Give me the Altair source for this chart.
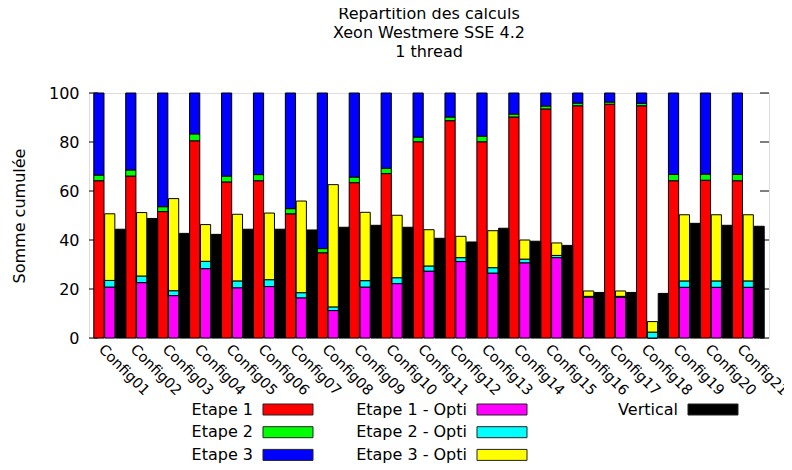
import altair as alt
import pandas as pd

FONT = "DejaVu Sans"

configs = ["Config01", "Config02", "Config03", "Config04", "Config05", "Config06", "Config07",
           "Config08", "Config09", "Config10", "Config11", "Config12", "Config13", "Config14",
           "Config15", "Config16", "Config17", "Config18", "Config19", "Config20", "Config21"]

etape1 = [64.2, 66.1, 51.6, 80.5, 63.7, 64.2, 50.7, 34.8, 63.4, 67.1, 80.1, 88.7, 80.1, 90.2,
          93.5, 94.8, 95.4, 94.8, 64.2, 64.4, 64.2]
etape2 = [2.3, 2.5, 2.0, 2.8, 2.4, 2.5, 2.1, 1.7, 2.3, 2.2, 1.9, 1.5, 2.3, 1.2,
          1.2, 1.1, 0.9, 1.0, 2.6, 2.5, 2.6]
etape3 = [33.5, 31.4, 46.4, 16.7, 33.9, 33.3, 47.2, 63.5, 34.3, 30.7, 18.0, 9.8, 17.6, 8.6,
          5.3, 4.1, 3.7, 4.2, 33.2, 33.1, 33.2]

etape1_opti = [20.8, 22.6, 17.3, 28.3, 20.5, 21.0, 16.4, 11.2, 20.8, 22.2, 27.3, 31.2, 26.5, 30.7,
               32.8, 16.6, 16.6, 0.0, 20.7, 20.7, 20.7]
etape2_opti = [2.7, 2.7, 2.0, 3.0, 2.8, 2.8, 2.1, 1.5, 2.6, 2.4, 2.1, 1.6, 2.2, 1.5,
               0.9, 0.4, 0.4, 2.4, 2.6, 2.6, 2.6]
etape3_opti = [27.2, 25.9, 37.6, 15.0, 27.2, 27.2, 37.4, 49.9, 27.9, 25.5, 14.8, 8.7, 15.1, 7.8,
               5.1, 2.2, 2.2, 4.3, 27.0, 27.0, 27.0]

vertical = [44.4, 48.8, 42.7, 42.3, 44.4, 44.4, 44.1, 45.2, 46.0, 45.2, 40.7, 39.2, 44.8, 39.5,
            37.8, 18.6, 18.6, 18.2, 46.8, 46.0, 45.6]

y_ticks = [0, 20, 40, 60, 80, 100]

bars = ["base", "opti", "vertical"]
legend_order = ["Etape 1", "Etape 2", "Etape 3", "Etape 1 - Opti", "Etape 2 - Opti", "Etape 3 - Opti"]
legend_colors = ["#ff0000", "#00ff00", "#0000ff", "#ff00ff", "#00ffff", "#ffff00"]

rows = []
for i, c in enumerate(configs):
    acc = 0.0
    for name, vals in [("Etape 1", etape1), ("Etape 2", etape2), ("Etape 3", etape3)]:
        rows.append(dict(config=c, bar="base", series=name, y0=acc, y1=acc + vals[i]))
        acc += vals[i]
    acc = 0.0
    for name, vals in [("Etape 1 - Opti", etape1_opti), ("Etape 2 - Opti", etape2_opti),
                       ("Etape 3 - Opti", etape3_opti)]:
        rows.append(dict(config=c, bar="opti", series=name, y0=acc, y1=acc + vals[i]))
        acc += vals[i]
df_stack = pd.DataFrame(rows)
df_vert = pd.DataFrame(dict(config=configs, bar="vertical", series="Vertical", y0=0.0, y1=vertical))
df_ticks = pd.DataFrame(dict(t=y_ticks))

W, H = 680, 245

x_enc = alt.X("config:N", sort=configs,
              scale=alt.Scale(domain=configs, paddingInner=0, paddingOuter=0.15),
              axis=alt.Axis(title=None, labelAngle=45, labelAlign="left", labelBaseline="middle",
                            labelFont=FONT, labelFontSize=14.5, labelColor="black",
                            labelPadding=9, labelOffset={"expr": "-9"}, ticks=False, domain=False,
                            labelOverlap=False))
xo_enc = alt.XOffset("bar:N", sort=bars, scale=alt.Scale(domain=bars, paddingInner=0.06, paddingOuter=0))
y_scale = alt.Scale(domain=[0, 100], nice=False, zero=True)
y_enc = alt.Y("y0:Q", scale=y_scale,
              axis=alt.Axis(title="Somme cumulée", values=y_ticks, grid=False, ticks=False, domain=False,
                            labelFont=FONT, labelFontSize=16, labelColor="black", labelPadding=10,
                            titleFont=FONT, titleFontSize=16, titleFontWeight="normal", titleColor="black",
                            titlePadding=21))

# 50x11 swatch drawn from a small nominal symbol size so legend rows stay compact
sym_path = "M-3,-0.66H3V0.66H-3Z"

common_legend = dict(title=None, orient="none", padding=0, rowPadding={"expr": "5.7"},
                     symbolType=sym_path, symbolSize=277.8, symbolStrokeColor="#222222",
                     symbolStrokeWidth=1, symbolOpacity=1,
                     labelAlign="right", labelOffset={"expr": "-44"}, labelFont=FONT,
                     labelFontSize=16, labelColor="black", labelLimit=0)

stacked = alt.Chart(df_stack).mark_bar(stroke="black", strokeWidth=1).encode(
    x=x_enc, xOffset=xo_enc, y=y_enc, y2="y1:Q",
    color=alt.Color("series:N", scale=alt.Scale(domain=legend_order, range=legend_colors),
                    legend=alt.Legend(legendX=190, legendY=307.5, columns=2, columnPadding=40,
                                      **common_legend)),
)

vert = alt.Chart(df_vert).mark_bar(stroke="black", strokeWidth=1).encode(
    x=x_enc, xOffset=xo_enc, y=y_enc, y2="y1:Q",
    fill=alt.Fill("series:N", scale=alt.Scale(domain=["Vertical"], range=["#000000"]),
                  legend=alt.Legend(legendX=615, legendY=307.5, **common_legend)),
)

ticks_left = alt.Chart(df_ticks).mark_rule(color="black", strokeWidth=1).encode(
    y=alt.Y("t:Q", scale=y_scale), x=alt.value(0), x2=alt.value(9))
ticks_right = alt.Chart(df_ticks).mark_rule(color="black", strokeWidth=1).encode(
    y=alt.Y("t:Q", scale=y_scale), x=alt.value(W - 9), x2=alt.value(W))

chart = alt.layer(ticks_left, ticks_right, stacked, vert).resolve_scale(color="independent").properties(
    width=W, height=H,
    autosize=alt.AutoSizeParams(type="none"),
    padding={"left": 81, "top": 85, "right": 15, "bottom": 125},
    title=alt.TitleParams(text=["Repartition des calculs", "Xeon Westmere SSE 4.2", "1 thread"],
                          font=FONT, fontSize=16, fontWeight="normal", color="black",
                          lineHeight=19, anchor="middle", offset=25),
).configure_view(stroke="black", strokeWidth=1.2).configure(background="white")

chart.save("out.html", embed_options={"renderer": "svg", "actions": False})
